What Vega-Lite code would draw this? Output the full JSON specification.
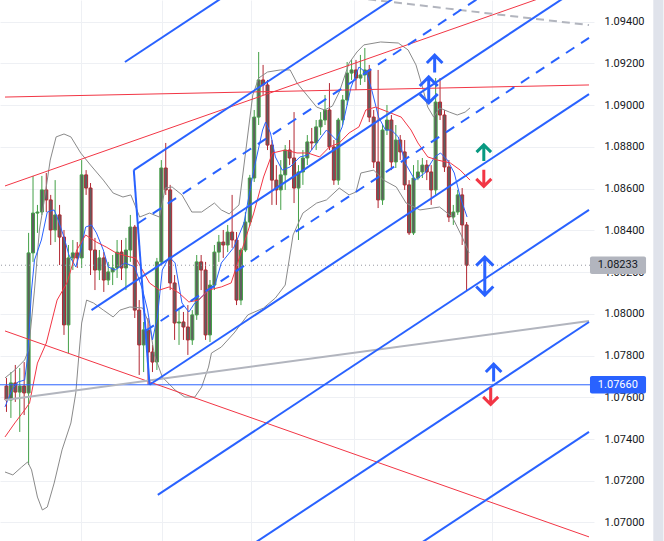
{
"$schema":"https://vega.github.io/schema/vega-lite/v6.json",
"width":594,"height":541,
"autosize":{"type":"none"},
"padding":{"left":0,"top":0,"right":70,"bottom":0},
"background":"white",
"config":{"view":{"stroke":null},"font":"Roboto",
 "axisX":{"labels":false,"ticks":false,"domain":false,"title":null,"grid":true,"gridColor":"#eef0f4"},
 "axisY":{"format":".5f","title":null,"domain":false,"ticks":false,"labelPadding":10,"labelFontSize":11,"labelColor":"#131722","labelFont":"Roboto","grid":true,"gridColor":"#eef0f4","labelOverlap":false,"labelFlush":false,"labelBound":false}},
"datasets":{
"candles":[
{"t":0,"o":1.07654,"c":1.07587,"h":1.07693,"l":1.07530},
{"t":1,"o":1.07587,"c":1.07669,"h":1.07721,"l":1.07501},
{"t":2,"o":1.07669,"c":1.07625,"h":1.07755,"l":1.07578},
{"t":3,"o":1.07625,"c":1.07654,"h":1.07740,"l":1.07434},
{"t":4,"o":1.07654,"c":1.07621,"h":1.07769,"l":1.07515},
{"t":5,"o":1.07621,"c":1.08292,"h":1.08388,"l":1.07276},
{"t":6,"o":1.08292,"c":1.08483,"h":1.08661,"l":1.08249},
{"t":7,"o":1.08483,"c":1.08488,"h":1.08522,"l":1.08388},
{"t":8,"o":1.08488,"c":1.08594,"h":1.08661,"l":1.08474},
{"t":9,"o":1.08594,"c":1.08546,"h":1.08675,"l":1.08488},
{"t":10,"o":1.08546,"c":1.08402,"h":1.08570,"l":1.08330},
{"t":11,"o":1.08402,"c":1.08474,"h":1.08641,"l":1.08344},
{"t":12,"o":1.08474,"c":1.08368,"h":1.08522,"l":1.08234},
{"t":13,"o":1.08368,"c":1.07947,"h":1.08402,"l":1.07899},
{"t":14,"o":1.07947,"c":1.08268,"h":1.08330,"l":1.07812},
{"t":15,"o":1.08268,"c":1.08292,"h":1.08354,"l":1.08210},
{"t":16,"o":1.08292,"c":1.08268,"h":1.08344,"l":1.08220},
{"t":17,"o":1.08268,"c":1.08666,"h":1.08737,"l":1.08220},
{"t":18,"o":1.08666,"c":1.08603,"h":1.08689,"l":1.08570},
{"t":19,"o":1.08603,"c":1.08306,"h":1.08627,"l":1.08186},
{"t":20,"o":1.08306,"c":1.08210,"h":1.08364,"l":1.08114},
{"t":21,"o":1.08210,"c":1.08268,"h":1.08306,"l":1.08162},
{"t":22,"o":1.08268,"c":1.08162,"h":1.08296,"l":1.08105},
{"t":23,"o":1.08162,"c":1.08201,"h":1.08249,"l":1.08138},
{"t":24,"o":1.08201,"c":1.08220,"h":1.08282,"l":1.08138},
{"t":25,"o":1.08220,"c":1.08296,"h":1.08354,"l":1.08172},
{"t":26,"o":1.08296,"c":1.08220,"h":1.08354,"l":1.08162},
{"t":27,"o":1.08220,"c":1.08306,"h":1.08364,"l":1.08114},
{"t":28,"o":1.08306,"c":1.08416,"h":1.08474,"l":1.08249},
{"t":29,"o":1.08416,"c":1.08018,"h":1.08426,"l":1.07980},
{"t":30,"o":1.08018,"c":1.07851,"h":1.08066,"l":1.07707},
{"t":31,"o":1.07851,"c":1.07923,"h":1.07961,"l":1.07721},
{"t":32,"o":1.07923,"c":1.07817,"h":1.07980,"l":1.07660},
{"t":33,"o":1.07817,"c":1.07769,"h":1.07851,"l":1.07721},
{"t":34,"o":1.07769,"c":1.08249,"h":1.08268,"l":1.07731},
{"t":35,"o":1.08249,"c":1.08699,"h":1.08737,"l":1.08234},
{"t":36,"o":1.08699,"c":1.08594,"h":1.08819,"l":1.08570},
{"t":37,"o":1.08594,"c":1.08148,"h":1.08618,"l":1.08114},
{"t":38,"o":1.08148,"c":1.07956,"h":1.08186,"l":1.07875},
{"t":39,"o":1.07956,"c":1.07961,"h":1.08018,"l":1.07851},
{"t":40,"o":1.07961,"c":1.07937,"h":1.08009,"l":1.07875},
{"t":41,"o":1.07937,"c":1.07875,"h":1.08042,"l":1.07803},
{"t":42,"o":1.07875,"c":1.07995,"h":1.08018,"l":1.07851},
{"t":43,"o":1.07995,"c":1.08249,"h":1.08282,"l":1.07971},
{"t":44,"o":1.08249,"c":1.08210,"h":1.08282,"l":1.08114},
{"t":45,"o":1.08210,"c":1.07899,"h":1.08249,"l":1.07875},
{"t":46,"o":1.07899,"c":1.08138,"h":1.08162,"l":1.07865},
{"t":47,"o":1.08138,"c":1.08296,"h":1.08330,"l":1.08114},
{"t":48,"o":1.08296,"c":1.08344,"h":1.08378,"l":1.08249},
{"t":49,"o":1.08344,"c":1.08330,"h":1.08402,"l":1.08268},
{"t":50,"o":1.08330,"c":1.08392,"h":1.08426,"l":1.08296},
{"t":51,"o":1.08392,"c":1.08354,"h":1.08570,"l":1.08316},
{"t":52,"o":1.08354,"c":1.08066,"h":1.08392,"l":1.08042},
{"t":53,"o":1.08066,"c":1.08306,"h":1.08316,"l":1.08042},
{"t":54,"o":1.08306,"c":1.08440,"h":1.08488,"l":1.08296},
{"t":55,"o":1.08440,"c":1.08651,"h":1.08666,"l":1.08421},
{"t":56,"o":1.08651,"c":1.08943,"h":1.08977,"l":1.08632},
{"t":57,"o":1.08943,"c":1.09121,"h":1.09255,"l":1.08905},
{"t":58,"o":1.09121,"c":1.09097,"h":1.09193,"l":1.09049},
{"t":59,"o":1.09097,"c":1.08809,"h":1.09121,"l":1.08785},
{"t":60,"o":1.08809,"c":1.08641,"h":1.08833,"l":1.08522},
{"t":61,"o":1.08641,"c":1.08594,"h":1.08713,"l":1.08522},
{"t":62,"o":1.08594,"c":1.08666,"h":1.08737,"l":1.08498},
{"t":63,"o":1.08666,"c":1.08785,"h":1.08809,"l":1.08594},
{"t":64,"o":1.08785,"c":1.08747,"h":1.08833,"l":1.08713},
{"t":65,"o":1.08747,"c":1.08603,"h":1.08967,"l":1.08531},
{"t":66,"o":1.08603,"c":1.08680,"h":1.08713,"l":1.08354},
{"t":67,"o":1.08680,"c":1.08747,"h":1.08785,"l":1.08618},
{"t":68,"o":1.08747,"c":1.08824,"h":1.08857,"l":1.08713},
{"t":69,"o":1.08824,"c":1.08819,"h":1.08891,"l":1.08785},
{"t":70,"o":1.08819,"c":1.08896,"h":1.08929,"l":1.08785},
{"t":71,"o":1.08896,"c":1.08929,"h":1.08967,"l":1.08857},
{"t":72,"o":1.08929,"c":1.08977,"h":1.09049,"l":1.08905},
{"t":73,"o":1.08977,"c":1.08800,"h":1.09106,"l":1.08785},
{"t":74,"o":1.08800,"c":1.08641,"h":1.08833,"l":1.08618},
{"t":75,"o":1.08641,"c":1.08929,"h":1.08939,"l":1.08618},
{"t":76,"o":1.08929,"c":1.09025,"h":1.09049,"l":1.08905},
{"t":77,"o":1.09025,"c":1.09154,"h":1.09207,"l":1.09001},
{"t":78,"o":1.09154,"c":1.09169,"h":1.09217,"l":1.09121},
{"t":79,"o":1.09169,"c":1.09130,"h":1.09217,"l":1.09073},
{"t":80,"o":1.09130,"c":1.09145,"h":1.09241,"l":1.09097},
{"t":81,"o":1.09145,"c":1.09169,"h":1.09274,"l":1.09111},
{"t":82,"o":1.09169,"c":1.08943,"h":1.09193,"l":1.08919},
{"t":83,"o":1.08943,"c":1.08728,"h":1.08977,"l":1.08699},
{"t":84,"o":1.08728,"c":1.08546,"h":1.09169,"l":1.08507},
{"t":85,"o":1.08546,"c":1.08881,"h":1.08905,"l":1.08522},
{"t":86,"o":1.08881,"c":1.08929,"h":1.09001,"l":1.08857},
{"t":87,"o":1.08929,"c":1.08728,"h":1.08953,"l":1.08689},
{"t":88,"o":1.08728,"c":1.08833,"h":1.08905,"l":1.08699},
{"t":89,"o":1.08833,"c":1.08776,"h":1.08857,"l":1.08737},
{"t":90,"o":1.08776,"c":1.08618,"h":1.08833,"l":1.08594},
{"t":91,"o":1.08618,"c":1.08388,"h":1.08641,"l":1.08378},
{"t":92,"o":1.08388,"c":1.08651,"h":1.08713,"l":1.08378},
{"t":93,"o":1.08651,"c":1.08680,"h":1.08737,"l":1.08641},
{"t":94,"o":1.08680,"c":1.08713,"h":1.08747,"l":1.08651},
{"t":95,"o":1.08713,"c":1.08680,"h":1.08737,"l":1.08641},
{"t":96,"o":1.08680,"c":1.08594,"h":1.08713,"l":1.08522},
{"t":97,"o":1.08594,"c":1.09015,"h":1.09130,"l":1.08570},
{"t":98,"o":1.09015,"c":1.08953,"h":1.09130,"l":1.08929},
{"t":99,"o":1.08953,"c":1.08704,"h":1.08977,"l":1.08680},
{"t":100,"o":1.08704,"c":1.08464,"h":1.08737,"l":1.08440},
{"t":101,"o":1.08464,"c":1.08488,"h":1.08522,"l":1.08426},
{"t":102,"o":1.08488,"c":1.08570,"h":1.08594,"l":1.08474},
{"t":103,"o":1.08570,"c":1.08426,"h":1.08603,"l":1.08330},
{"t":104,"o":1.08426,"c":1.08233,"h":1.08440,"l":1.08114}
],
"ind":[
{"s":"bbU","t":-0.33,"p":1.07693},{"s":"bbU","t":1.89,"p":1.07731},{"s":"bbU","t":4.11,"p":1.07779},{"s":"bbU","t":5,"p":1.07827},{"s":"bbU","t":6.33,"p":1.08114},{"s":"bbU","t":7.44,"p":1.08402},{"s":"bbU","t":8.56,"p":1.08546},{"s":"bbU","t":9.89,"p":1.08737},{"s":"bbU","t":11.22,"p":1.08848},{"s":"bbU","t":13,"p":1.08862},{"s":"bbU","t":14.56,"p":1.08848},{"s":"bbU","t":16.78,"p":1.08771},{"s":"bbU","t":19,"p":1.08713},{"s":"bbU","t":21.89,"p":1.08641},{"s":"bbU","t":24.11,"p":1.08579},{"s":"bbU","t":26.33,"p":1.08560},{"s":"bbU","t":28.11,"p":1.08570},{"s":"bbU","t":29.22,"p":1.08512},{"s":"bbU","t":30.11,"p":1.08464},{"s":"bbU","t":32.33,"p":1.08483},{"s":"bbU","t":34.56,"p":1.08464},{"s":"bbU","t":35.89,"p":1.08603},{"s":"bbU","t":37.44,"p":1.08608},{"s":"bbU","t":39.67,"p":1.08570},{"s":"bbU","t":41.89,"p":1.08488},{"s":"bbU","t":44.11,"p":1.08488},{"s":"bbU","t":47,"p":1.08531},{"s":"bbU","t":48.56,"p":1.08498},{"s":"bbU","t":50.33,"p":1.08479},{"s":"bbU","t":52.56,"p":1.08522},{"s":"bbU","t":54.11,"p":1.08785},{"s":"bbU","t":55.67,"p":1.09049},{"s":"bbU","t":57,"p":1.09130},{"s":"bbU","t":59,"p":1.09159},{"s":"bbU","t":61.89,"p":1.09169},{"s":"bbU","t":64.11,"p":1.09169},{"s":"bbU","t":65.67,"p":1.09106},{"s":"bbU","t":67.89,"p":1.09049},{"s":"bbU","t":70.11,"p":1.08991},{"s":"bbU","t":71.89,"p":1.08977},{"s":"bbU","t":73.67,"p":1.08996},{"s":"bbU","t":75.22,"p":1.09063},{"s":"bbU","t":77.44,"p":1.09202},{"s":"bbU","t":79.22,"p":1.09255},{"s":"bbU","t":80.78,"p":1.09289},{"s":"bbU","t":84.56,"p":1.09303},{"s":"bbU","t":88.56,"p":1.09298},{"s":"bbU","t":90.78,"p":1.09265},{"s":"bbU","t":92.56,"p":1.09193},{"s":"bbU","t":93.89,"p":1.09097},{"s":"bbU","t":95.22,"p":1.08991},{"s":"bbU","t":96.56,"p":1.08943},{"s":"bbU","t":97.89,"p":1.08987},{"s":"bbU","t":100.11,"p":1.08967},{"s":"bbU","t":101.89,"p":1.08953},{"s":"bbU","t":103.67,"p":1.08967},{"s":"bbU","t":104.78,"p":1.08987},
{"s":"bbL","t":-0.33,"p":1.07242},{"s":"bbL","t":1.44,"p":1.07228},{"s":"bbL","t":3.44,"p":1.07266},{"s":"bbL","t":4.78,"p":1.07290},{"s":"bbL","t":5.67,"p":1.07252},{"s":"bbL","t":7,"p":1.07122},{"s":"bbL","t":8.11,"p":1.07060},{"s":"bbL","t":9.22,"p":1.07074},{"s":"bbL","t":10.78,"p":1.07189},{"s":"bbL","t":12.56,"p":1.07348},{"s":"bbL","t":14.56,"p":1.07477},{"s":"bbL","t":15.67,"p":1.07621},{"s":"bbL","t":16.33,"p":1.07793},{"s":"bbL","t":17,"p":1.07956},{"s":"bbL","t":18.11,"p":1.08066},{"s":"bbL","t":19.67,"p":1.08052},{"s":"bbL","t":21.89,"p":1.08018},{"s":"bbL","t":24.11,"p":1.07985},{"s":"bbL","t":25.67,"p":1.08018},{"s":"bbL","t":27.89,"p":1.08033},{"s":"bbL","t":30.78,"p":1.08028},{"s":"bbL","t":32.33,"p":1.07947},{"s":"bbL","t":33.44,"p":1.07803},{"s":"bbL","t":35.22,"p":1.07697},{"s":"bbL","t":38.11,"p":1.07635},{"s":"bbL","t":40.33,"p":1.07601},{"s":"bbL","t":42.56,"p":1.07601},{"s":"bbL","t":44.11,"p":1.07649},{"s":"bbL","t":45.67,"p":1.07745},{"s":"bbL","t":46.33,"p":1.07812},{"s":"bbL","t":48.56,"p":1.07841},{"s":"bbL","t":51.44,"p":1.07908},{"s":"bbL","t":54.56,"p":1.07995},{"s":"bbL","t":58.11,"p":1.08028},{"s":"bbL","t":60.78,"p":1.08076},{"s":"bbL","t":63,"p":1.08138},{"s":"bbL","t":64.78,"p":1.08378},{"s":"bbL","t":67,"p":1.08483},{"s":"bbL","t":70.11,"p":1.08531},{"s":"bbL","t":72.33,"p":1.08546},{"s":"bbL","t":75.22,"p":1.08603},{"s":"bbL","t":77.44,"p":1.08570},{"s":"bbL","t":79,"p":1.08584},{"s":"bbL","t":80.11,"p":1.08675},{"s":"bbL","t":83,"p":1.08689},{"s":"bbL","t":85.22,"p":1.08641},{"s":"bbL","t":88.11,"p":1.08608},{"s":"bbL","t":90.33,"p":1.08531},{"s":"bbL","t":93.44,"p":1.08498},{"s":"bbL","t":97.89,"p":1.08512},{"s":"bbL","t":100.78,"p":1.08464},{"s":"bbL","t":103,"p":1.08368},{"s":"bbL","t":104.56,"p":1.08292},
{"s":"ma1","t":-0.33,"p":1.07554},{"s":"ma1","t":1.22,"p":1.07635},{"s":"ma1","t":2.56,"p":1.07673},{"s":"ma1","t":4.11,"p":1.07683},{"s":"ma1","t":4.78,"p":1.07793},{"s":"ma1","t":5.67,"p":1.08114},{"s":"ma1","t":6.33,"p":1.08258},{"s":"ma1","t":7.89,"p":1.08354},{"s":"ma1","t":9.22,"p":1.08488},{"s":"ma1","t":10.78,"p":1.08498},{"s":"ma1","t":11.44,"p":1.08464},{"s":"ma1","t":13,"p":1.08368},{"s":"ma1","t":14.11,"p":1.08282},{"s":"ma1","t":15.67,"p":1.08225},{"s":"ma1","t":16.78,"p":1.08306},{"s":"ma1","t":17.89,"p":1.08416},{"s":"ma1","t":19.22,"p":1.08426},{"s":"ma1","t":20.33,"p":1.08388},{"s":"ma1","t":21.89,"p":1.08306},{"s":"ma1","t":23,"p":1.08225},{"s":"ma1","t":24.56,"p":1.08210},{"s":"ma1","t":26.78,"p":1.08244},{"s":"ma1","t":29,"p":1.08225},{"s":"ma1","t":30.78,"p":1.08114},{"s":"ma1","t":31.89,"p":1.08018},{"s":"ma1","t":33,"p":1.07875},{"s":"ma1","t":34.11,"p":1.07985},{"s":"ma1","t":35.22,"p":1.08210},{"s":"ma1","t":36.78,"p":1.08273},{"s":"ma1","t":38.11,"p":1.08244},{"s":"ma1","t":39.67,"p":1.08052},{"s":"ma1","t":41.22,"p":1.08009},{"s":"ma1","t":42.56,"p":1.08052},{"s":"ma1","t":44.11,"p":1.08081},{"s":"ma1","t":45.67,"p":1.08114},{"s":"ma1","t":47,"p":1.08129},{"s":"ma1","t":48.56,"p":1.08244},{"s":"ma1","t":51.44,"p":1.08320},{"s":"ma1","t":53.67,"p":1.08435},{"s":"ma1","t":55.89,"p":1.08689},{"s":"ma1","t":57.89,"p":1.08881},{"s":"ma1","t":58.56,"p":1.08919},{"s":"ma1","t":59.67,"p":1.08867},{"s":"ma1","t":60.78,"p":1.08752},{"s":"ma1","t":62.33,"p":1.08689},{"s":"ma1","t":64.11,"p":1.08704},{"s":"ma1","t":66.33,"p":1.08752},{"s":"ma1","t":68.11,"p":1.08761},{"s":"ma1","t":70.11,"p":1.08819},{"s":"ma1","t":72.33,"p":1.08881},{"s":"ma1","t":74.56,"p":1.08833},{"s":"ma1","t":75.89,"p":1.08896},{"s":"ma1","t":77.89,"p":1.09087},{"s":"ma1","t":79.67,"p":1.09183},{"s":"ma1","t":81.44,"p":1.09154},{"s":"ma1","t":82.56,"p":1.09073},{"s":"ma1","t":84.11,"p":1.08943},{"s":"ma1","t":85.67,"p":1.08881},{"s":"ma1","t":87,"p":1.08881},{"s":"ma1","t":88.56,"p":1.08848},{"s":"ma1","t":90.11,"p":1.08723},{"s":"ma1","t":92.33,"p":1.08641},{"s":"ma1","t":94.56,"p":1.08675},{"s":"ma1","t":96.78,"p":1.08752},{"s":"ma1","t":98.11,"p":1.08771},{"s":"ma1","t":99.67,"p":1.08737},{"s":"ma1","t":101.22,"p":1.08675},{"s":"ma1","t":102.56,"p":1.08560},{"s":"ma1","t":104.11,"p":1.08464},
{"s":"ma2","t":-0.33,"p":1.07410},{"s":"ma2","t":1.89,"p":1.07477},{"s":"ma2","t":4.11,"p":1.07539},{"s":"ma2","t":5.22,"p":1.07573},{"s":"ma2","t":7,"p":1.07764},{"s":"ma2","t":9,"p":1.07860},{"s":"ma2","t":11.44,"p":1.08066},{"s":"ma2","t":13.67,"p":1.08148},{"s":"ma2","t":15.89,"p":1.08306},{"s":"ma2","t":17.89,"p":1.08378},{"s":"ma2","t":20.33,"p":1.08344},{"s":"ma2","t":22.56,"p":1.08320},{"s":"ma2","t":24.78,"p":1.08292},{"s":"ma2","t":27.89,"p":1.08273},{"s":"ma2","t":29.22,"p":1.08268},{"s":"ma2","t":32.33,"p":1.08148},{"s":"ma2","t":34.56,"p":1.08114},{"s":"ma2","t":36.78,"p":1.08129},{"s":"ma2","t":39,"p":1.08100},{"s":"ma2","t":41.22,"p":1.08057},{"s":"ma2","t":43.44,"p":1.08066},{"s":"ma2","t":45.67,"p":1.08114},{"s":"ma2","t":48.56,"p":1.08129},{"s":"ma2","t":50.78,"p":1.08148},{"s":"ma2","t":53,"p":1.08292},{"s":"ma2","t":55.89,"p":1.08483},{"s":"ma2","t":58.11,"p":1.08656},{"s":"ma2","t":60.11,"p":1.08771},{"s":"ma2","t":63,"p":1.08785},{"s":"ma2","t":65.67,"p":1.08771},{"s":"ma2","t":68.11,"p":1.08771},{"s":"ma2","t":70.78,"p":1.08752},{"s":"ma2","t":73,"p":1.08800},{"s":"ma2","t":75.22,"p":1.08819},{"s":"ma2","t":77.44,"p":1.08867},{"s":"ma2","t":79.67,"p":1.08896},{"s":"ma2","t":81.22,"p":1.08977},{"s":"ma2","t":83.44,"p":1.08991},{"s":"ma2","t":86.33,"p":1.08967},{"s":"ma2","t":89.22,"p":1.08943},{"s":"ma2","t":91.44,"p":1.08881},{"s":"ma2","t":93,"p":1.08819},{"s":"ma2","t":95.22,"p":1.08752},{"s":"ma2","t":97.44,"p":1.08737},{"s":"ma2","t":100.33,"p":1.08723},{"s":"ma2","t":102.56,"p":1.08689},{"s":"ma2","t":104.78,"p":1.08641}
],
"fork":[
{"id":"a","t":26.78,"p":1.09207},{"id":"a","t":131.67,"p":1.10677},
{"id":"b","t":28.78,"p":1.08689},{"id":"b","t":131.67,"p":1.10131},
{"id":"c","t":19.22,"p":1.08018},{"id":"c","t":131.67,"p":1.09594},
{"id":"e","t":32.33,"p":1.07660},{"id":"e","t":131.67,"p":1.09053},
{"id":"f","t":34.2,"p":1.07132},{"id":"f","t":131.67,"p":1.08498},
{"id":"g","t":36,"p":1.06620},{"id":"g","t":131.67,"p":1.07961},
{"id":"h","t":60,"p":1.06429},{"id":"h","t":131.67,"p":1.07434},
{"id":"handle","t":28.78,"p":1.08689},{"id":"handle","t":32.33,"p":1.07660}
],
"forkHalf":[
{"id":"d1","t":29.66,"p":1.08433},{"id":"d1","t":131.67,"p":1.09863},
{"id":"d2","t":31.44,"p":1.07918},{"id":"d2","t":131.67,"p":1.09323}
],
"redLines":[
{"id":"r1","t":-0.33,"p":1.08613},{"id":"r1","t":131.67,"p":1.09595},
{"id":"r2","t":-0.33,"p":1.09039},{"id":"r2","t":131.67,"p":1.09097},
{"id":"r4","t":-0.33,"p":1.07918},{"id":"r4","t":131.67,"p":1.06931}
],
"grayLine":[{"t":-0.33,"p":1.07587},{"t":131.67,"p":1.07966}],
"grayDash":[{"t":73,"p":1.09529},{"t":131.67,"p":1.09384}],
"edge":[{"x0":146.2,"x1":148.5,"lo":1.069113,"hi":1.095042}]
},
"layer":[
{"data":{"name":"edge"},
 "mark":{"type":"rect","fill":"#e0e3eb"},
 "encoding":{
  "x":{"field":"x0","type":"quantitative","scale":{"domain":[-0.3333,131.6667],"nice":false,"zero":false},"axis":{"values":[16.78,35.22,55.22,78.56,109.67],"title":null}},
  "x2":{"field":"x1"},
  "y":{"field":"lo","type":"quantitative","scale":{"domain":[1.069113,1.095042],"nice":false,"zero":false},"axis":{"orient":"right","values":[1.070,1.072,1.074,1.076,1.078,1.080,1.082,1.084,1.086,1.088,1.090,1.092,1.094],"title":null}},
  "y2":{"field":"hi"}
 }},
{"data":{"name":"candles"},
 "mark":{"type":"rule","strokeWidth":1,"clip":true},
 "encoding":{
  "x":{"field":"t","type":"quantitative","scale":{"domain":[-0.3333,131.6667],"nice":false,"zero":false},
       "axis":{"values":[16.78,35.22,55.22,78.56,109.67],"title":null}},
  "y":{"field":"h","type":"quantitative","scale":{"domain":[1.069113,1.095042],"nice":false,"zero":false},
       "axis":{"orient":"right","values":[1.070,1.072,1.074,1.076,1.078,1.080,1.082,1.084,1.086,1.088,1.090,1.092,1.094],"title":null}},
  "y2":{"field":"l"},
  "color":{"condition":{"test":"datum.c >= datum.o","value":"#43a047"},"value":"#b22833"}
 }},
{"data":{"name":"candles"},
 "mark":{"type":"bar","width":3,"fill":"#5f5f5f","strokeWidth":1,"clip":true},
 "encoding":{
  "x":{"field":"t","type":"quantitative","scale":{"domain":[-0.3333,131.6667],"nice":false,"zero":false},"axis":{"values":[16.78,35.22,55.22,78.56,109.67],"title":null}},
  "y":{"field":"o","type":"quantitative","scale":{"domain":[1.069113,1.095042],"nice":false,"zero":false},"axis":{"orient":"right","values":[1.070,1.072,1.074,1.076,1.078,1.080,1.082,1.084,1.086,1.088,1.090,1.092,1.094],"title":null}},
  "y2":{"field":"c"},
  "stroke":{"condition":{"test":"datum.c >= datum.o","value":"#43a047"},"value":"#b22833"}
 }},
{"data":{"name":"ind"},
 "mark":{"type":"line","strokeWidth":1,"clip":true},
 "encoding":{
  "x":{"field":"t","type":"quantitative","scale":{"domain":[-0.3333,131.6667],"nice":false,"zero":false},"axis":{"values":[16.78,35.22,55.22,78.56,109.67],"title":null}},
  "y":{"field":"p","type":"quantitative","scale":{"domain":[1.069113,1.095042],"nice":false,"zero":false},"axis":{"orient":"right","values":[1.070,1.072,1.074,1.076,1.078,1.080,1.082,1.084,1.086,1.088,1.090,1.092,1.094],"title":null}},
  "color":{"field":"s","type":"nominal","scale":{"domain":["bbU","bbL","ma1","ma2"],"range":["#8a8a8a","#8a8a8a","#2962ff","#f23645"]},"legend":null}
 }},
{"data":{"values":[{"p":1.08233}]},
 "mark":{"type":"rule","color":"#9598a1","strokeWidth":1,"strokeDash":[1,3]},
 "encoding":{"y":{"field":"p","type":"quantitative","scale":{"domain":[1.069113,1.095042],"nice":false,"zero":false},"axis":{"orient":"right","values":[1.070,1.072,1.074,1.076,1.078,1.080,1.082,1.084,1.086,1.088,1.090,1.092,1.094],"title":null}}}},
{"data":{"values":[{"p":1.0766}]},
 "mark":{"type":"rule","color":"#2962ff","strokeWidth":1},
 "encoding":{"y":{"field":"p","type":"quantitative","scale":{"domain":[1.069113,1.095042],"nice":false,"zero":false},"axis":{"orient":"right","values":[1.070,1.072,1.074,1.076,1.078,1.080,1.082,1.084,1.086,1.088,1.090,1.092,1.094],"title":null}}}},
{"data":{"name":"redLines"},
 "mark":{"type":"line","color":"#f23645","strokeWidth":1,"clip":true},
 "encoding":{
  "x":{"field":"t","type":"quantitative","scale":{"domain":[-0.3333,131.6667],"nice":false,"zero":false},"axis":{"values":[16.78,35.22,55.22,78.56,109.67],"title":null}},
  "y":{"field":"p","type":"quantitative","scale":{"domain":[1.069113,1.095042],"nice":false,"zero":false},"axis":{"orient":"right","values":[1.070,1.072,1.074,1.076,1.078,1.080,1.082,1.084,1.086,1.088,1.090,1.092,1.094],"title":null}},
  "detail":{"field":"id"}
 }},
{"data":{"name":"grayLine"},
 "mark":{"type":"line","color":"#b2b5be","strokeWidth":2,"clip":true},
 "encoding":{
  "x":{"field":"t","type":"quantitative","scale":{"domain":[-0.3333,131.6667],"nice":false,"zero":false},"axis":{"values":[16.78,35.22,55.22,78.56,109.67],"title":null}},
  "y":{"field":"p","type":"quantitative","scale":{"domain":[1.069113,1.095042],"nice":false,"zero":false},"axis":{"orient":"right","values":[1.070,1.072,1.074,1.076,1.078,1.080,1.082,1.084,1.086,1.088,1.090,1.092,1.094],"title":null}}
 }},
{"data":{"name":"grayDash"},
 "mark":{"type":"line","color":"#b2b5be","strokeWidth":2,"strokeDash":[8,5],"clip":true},
 "encoding":{
  "x":{"field":"t","type":"quantitative","scale":{"domain":[-0.3333,131.6667],"nice":false,"zero":false},"axis":{"values":[16.78,35.22,55.22,78.56,109.67],"title":null}},
  "y":{"field":"p","type":"quantitative","scale":{"domain":[1.069113,1.095042],"nice":false,"zero":false},"axis":{"orient":"right","values":[1.070,1.072,1.074,1.076,1.078,1.080,1.082,1.084,1.086,1.088,1.090,1.092,1.094],"title":null}}
 }},
{"data":{"name":"fork"},
 "mark":{"type":"line","color":"#2962ff","strokeWidth":2,"clip":true},
 "encoding":{
  "x":{"field":"t","type":"quantitative","scale":{"domain":[-0.3333,131.6667],"nice":false,"zero":false},"axis":{"values":[16.78,35.22,55.22,78.56,109.67],"title":null}},
  "y":{"field":"p","type":"quantitative","scale":{"domain":[1.069113,1.095042],"nice":false,"zero":false},"axis":{"orient":"right","values":[1.070,1.072,1.074,1.076,1.078,1.080,1.082,1.084,1.086,1.088,1.090,1.092,1.094],"title":null}},
  "detail":{"field":"id"}
 }},
{"data":{"name":"forkHalf"},
 "mark":{"type":"line","color":"#2962ff","strokeWidth":2,"strokeDash":[10,8],"clip":true},
 "encoding":{
  "x":{"field":"t","type":"quantitative","scale":{"domain":[-0.3333,131.6667],"nice":false,"zero":false},"axis":{"values":[16.78,35.22,55.22,78.56,109.67],"title":null}},
  "y":{"field":"p","type":"quantitative","scale":{"domain":[1.069113,1.095042],"nice":false,"zero":false},"axis":{"orient":"right","values":[1.070,1.072,1.074,1.076,1.078,1.080,1.082,1.084,1.086,1.088,1.090,1.092,1.094],"title":null}},
  "detail":{"field":"id"}
 }},
{"data":{"values":[{"t":96.78,"p":1.09198},{"t":110.11,"p":1.07717}]},
 "mark":{"type":"point","shape":"M0,1L0,-1M-0.9,-0.1L0,-1L0.9,-0.1","size":300,"filled":false,"stroke":"#2962ff","strokeWidth":3,"opacity":1},
 "encoding":{
  "x":{"field":"t","type":"quantitative","scale":{"domain":[-0.3333,131.6667],"nice":false,"zero":false},"axis":{"values":[16.78,35.22,55.22,78.56,109.67],"title":null}},
  "y":{"field":"p","type":"quantitative","scale":{"domain":[1.069113,1.095042],"nice":false,"zero":false},"axis":{"orient":"right","values":[1.070,1.072,1.074,1.076,1.078,1.080,1.082,1.084,1.086,1.088,1.090,1.092,1.094],"title":null}}
 }},
{"data":{"values":[{"t":107.89,"p":1.08771}]},
 "mark":{"type":"point","shape":"M0,1L0,-1M-0.9,-0.1L0,-1L0.9,-0.1","size":260,"filled":false,"stroke":"#089981","strokeWidth":3,"opacity":1},
 "encoding":{
  "x":{"field":"t","type":"quantitative","scale":{"domain":[-0.3333,131.6667],"nice":false,"zero":false},"axis":{"values":[16.78,35.22,55.22,78.56,109.67],"title":null}},
  "y":{"field":"p","type":"quantitative","scale":{"domain":[1.069113,1.095042],"nice":false,"zero":false},"axis":{"orient":"right","values":[1.070,1.072,1.074,1.076,1.078,1.080,1.082,1.084,1.086,1.088,1.090,1.092,1.094],"title":null}}
 }},
{"data":{"values":[{"t":107.89,"p":1.08651},{"t":109.44,"p":1.07606}]},
 "mark":{"type":"point","shape":"M0,-1L0,1M-0.9,0.1L0,1L0.9,0.1","size":280,"filled":false,"stroke":"#f23645","strokeWidth":3,"opacity":1},
 "encoding":{
  "x":{"field":"t","type":"quantitative","scale":{"domain":[-0.3333,131.6667],"nice":false,"zero":false},"axis":{"values":[16.78,35.22,55.22,78.56,109.67],"title":null}},
  "y":{"field":"p","type":"quantitative","scale":{"domain":[1.069113,1.095042],"nice":false,"zero":false},"axis":{"orient":"right","values":[1.070,1.072,1.074,1.076,1.078,1.080,1.082,1.084,1.086,1.088,1.090,1.092,1.094],"title":null}}
 }},
{"data":{"values":[{"t":95.44,"p":1.09073}]},
 "mark":{"type":"point","shape":"M0,-1L0,1M-0.69,-0.31L0,-1L0.69,-0.31M-0.69,0.31L0,1L0.69,0.31","size":676,"filled":false,"stroke":"#2962ff","strokeWidth":3,"opacity":1},
 "encoding":{
  "x":{"field":"t","type":"quantitative","scale":{"domain":[-0.3333,131.6667],"nice":false,"zero":false},"axis":{"values":[16.78,35.22,55.22,78.56,109.67],"title":null}},
  "y":{"field":"p","type":"quantitative","scale":{"domain":[1.069113,1.095042],"nice":false,"zero":false},"axis":{"orient":"right","values":[1.070,1.072,1.074,1.076,1.078,1.080,1.082,1.084,1.086,1.088,1.090,1.092,1.094],"title":null}}
 }},
{"data":{"values":[{"t":108.11,"p":1.08181}]},
 "mark":{"type":"point","shape":"M0,-1L0,1M-0.45,-0.55L0,-1L0.45,-0.55M-0.45,0.55L0,1L0.45,0.55","size":1444,"filled":false,"stroke":"#2962ff","strokeWidth":3,"opacity":1},
 "encoding":{
  "x":{"field":"t","type":"quantitative","scale":{"domain":[-0.3333,131.6667],"nice":false,"zero":false},"axis":{"values":[16.78,35.22,55.22,78.56,109.67],"title":null}},
  "y":{"field":"p","type":"quantitative","scale":{"domain":[1.069113,1.095042],"nice":false,"zero":false},"axis":{"orient":"right","values":[1.070,1.072,1.074,1.076,1.078,1.080,1.082,1.084,1.086,1.088,1.090,1.092,1.094],"title":null}}
 }},
{"data":{"values":[{"p":1.08233,"lo":1.08191,"hi":1.08275,"x0":131.89,"x1":144.56,"tx":133.67}]},
 "layer":[
  {"mark":{"type":"rect","fill":"#b2b5be","cornerRadius":2},
   "encoding":{
    "x":{"field":"x0","type":"quantitative","scale":{"domain":[-0.3333,131.6667],"nice":false,"zero":false},"axis":{"values":[16.78,35.22,55.22,78.56,109.67],"title":null}},
    "x2":{"field":"x1"},
    "y":{"field":"lo","type":"quantitative","scale":{"domain":[1.069113,1.095042],"nice":false,"zero":false},"axis":{"orient":"right","values":[1.070,1.072,1.074,1.076,1.078,1.080,1.082,1.084,1.086,1.088,1.090,1.092,1.094],"title":null}},
    "y2":{"field":"hi"}}},
  {"mark":{"type":"text","align":"left","baseline":"middle","font":"Roboto","fontSize":11,"color":"#131722"},
   "encoding":{
    "x":{"field":"tx","type":"quantitative","scale":{"domain":[-0.3333,131.6667],"nice":false,"zero":false},"axis":{"values":[16.78,35.22,55.22,78.56,109.67],"title":null}},
    "y":{"field":"p","type":"quantitative","scale":{"domain":[1.069113,1.095042],"nice":false,"zero":false},"axis":{"orient":"right","values":[1.070,1.072,1.074,1.076,1.078,1.080,1.082,1.084,1.086,1.088,1.090,1.092,1.094],"title":null}},
    "text":{"field":"p","type":"quantitative","format":".5f"}}}
 ]},
{"data":{"values":[{"p":1.0766,"lo":1.07618,"hi":1.07702,"x0":131.89,"x1":144.56,"tx":133.67}]},
 "layer":[
  {"mark":{"type":"rect","fill":"#2962ff","cornerRadius":2},
   "encoding":{
    "x":{"field":"x0","type":"quantitative","scale":{"domain":[-0.3333,131.6667],"nice":false,"zero":false},"axis":{"values":[16.78,35.22,55.22,78.56,109.67],"title":null}},
    "x2":{"field":"x1"},
    "y":{"field":"lo","type":"quantitative","scale":{"domain":[1.069113,1.095042],"nice":false,"zero":false},"axis":{"orient":"right","values":[1.070,1.072,1.074,1.076,1.078,1.080,1.082,1.084,1.086,1.088,1.090,1.092,1.094],"title":null}},
    "y2":{"field":"hi"}}},
  {"mark":{"type":"text","align":"left","baseline":"middle","font":"Roboto","fontSize":11,"color":"#ffffff"},
   "encoding":{
    "x":{"field":"tx","type":"quantitative","scale":{"domain":[-0.3333,131.6667],"nice":false,"zero":false},"axis":{"values":[16.78,35.22,55.22,78.56,109.67],"title":null}},
    "y":{"field":"p","type":"quantitative","scale":{"domain":[1.069113,1.095042],"nice":false,"zero":false},"axis":{"orient":"right","values":[1.070,1.072,1.074,1.076,1.078,1.080,1.082,1.084,1.086,1.088,1.090,1.092,1.094],"title":null}},
    "text":{"field":"p","type":"quantitative","format":".5f"}}}
 ]}
]
}
